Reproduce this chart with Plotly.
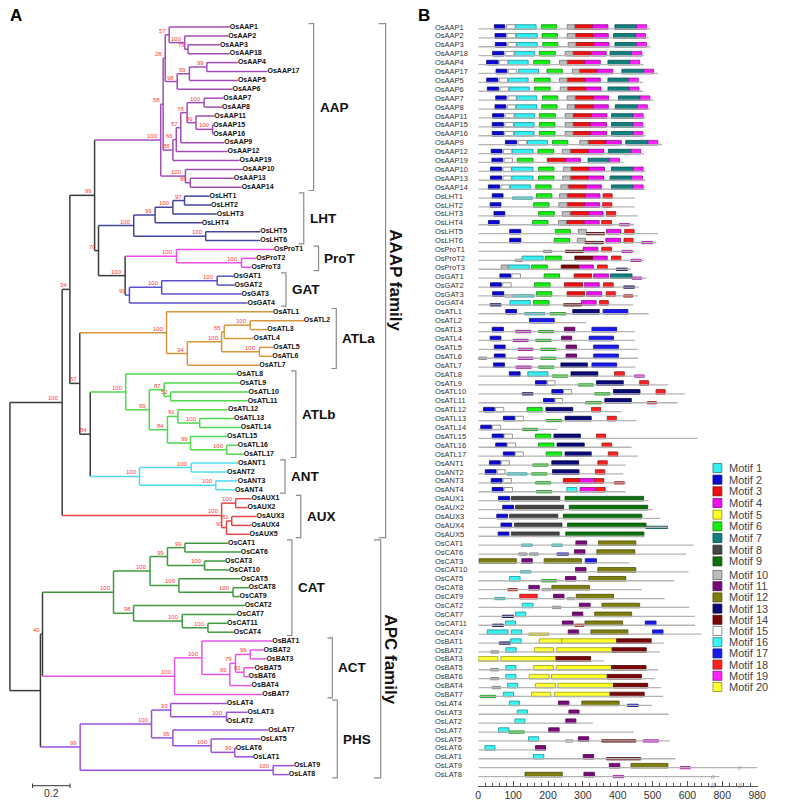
import plotly.graph_objects as go

W, H = 790, 808
FONT = "Arial, Liberation Sans, sans-serif"

# ---------------- DATA ----------------
# Tree (Newick, branch lengths in substitutions/site, bootstrap as node labels), built clade by clade
CLADE_N57A = "(OsAAP1:0.324,(OsAAP2:0.232,(OsAAP3:0.170,OsAAP18:0.223)75:0.018)100:0.083)57:0.021"
CLADE_N98 = "(((OsAAP4:0.166,OsAAP17:0.324)99:0.093,OsAAP5:0.259)99:0.065,OsAAP6:0.295)98:0.064"
CLADE_N78 = ("((OsAAP7:0.102,OsAAP8:0.095)100:0.091,(OsAAP11:0.098,"
             "(OsAAP15:0.003,OsAAP16:0.003)100:0.089)99:0.047)78:0.034")
CLADE_N88 = "(((" + CLADE_N78 + ",OsAAP9:0.232)57:0.024,OsAAP12:0.274)66:0.018,OsAAP19:0.356)88:0.052"
CLADE_N100B = "(OsAAP10:0.305,(OsAAP13:0.232,OsAAP14:0.274)86:0.026)100:0.132"
CLADE_AAP = ("(((" + CLADE_N57A + "," + CLADE_N98 + ")28:0.011," + CLADE_N88 + ")58:0.013,"
             + CLADE_N100B + ")100:0.353")
CLADE_LHT = ("((((OsLHT1:0.133,OsLHT2:0.142)97:0.062,OsLHT3:0.234)100:0.095,OsLHT4:0.249)99:0.114,"
             "(OsLHT5:0.291,OsLHT6:0.291)100:0.384)100:0.188")
CLADE_PROT = "(OsProT1:0.521,(OsProT2:0.079,OsProT3:0.053)100:0.347)100:0.274"
CLADE_GAT = "(((OsGAT1:0.088,OsGAT2:0.093)100:0.296,OsGAT3:0.426)100:0.172,OsGAT4:0.630)99:0.023"
CLADE_ATLA = ("(OsATL1:0.568,((((OsATL2:0.286,OsATL3:0.091)100:0.139,OsATL4:0.156)55:0.014,"
              "(OsATL5:0.074,OsATL6:0.068)100:0.202)100:0.183,OsATL7:0.384)94:0.111)100:0.463")
CLADE_ATLB = ("(OsATL8:0.593,((OsATL9:0.404,(OsATL10:0.416,OsATL11:0.411)52:0.035)87:0.079,"
              "((OsATL12:0.267,(OsATL13:0.183,OsATL14:0.219)100:0.116)91:0.056,"
              "(OsATL15:0.195,(OsATL16:0.059,OsATL17:0.091)100:0.193)99:0.123)84:0.097)99:0.126)100:0.189")
CLADE_ANT = "((OsANT1:0.249,OsANT2:0.191)100:0.276,(OsANT3:0.117,OsANT4:0.102)100:0.407)100:0.263"
CLADE_AUX = ("((OsAUX1:0.084,OsAUX2:0.063)100:0.075,((OsAUX3:0.132,OsAUX4:0.105)81:0.028,"
             "OsAUX5:0.123)93:0.026)100:0.851")
CLADE_CAT = ("((((OsCAT1:0.230,OsCAT6:0.298)99:0.093,(OsCAT3:0.109,OsCAT10:0.130)100:0.198)99:0.093,"
             "(OsCAT5:0.330,(OsCAT8:0.083,OsCAT9:0.035)100:0.289)100:0.154)100:0.195,"
             "(OsCAT2:0.593,(OsCAT7:0.291,(OsCAT11:0.102,OsCAT4:0.138)100:0.137)100:0.260)98:0.107)100:0.379")
CLADE_ACT = ("((OsBAT1:0.375,(((OsBAT2:0.070,OsBAT3:0.086)99:0.079,(OsBAT5:0.056,OsBAT6:0.025)93:0.045)79:0.030,"
             "OsBAT4:0.116)69:0.149)100:0.146,OsBAT7:0.468)100:0.705")
CLADE_PHS = ("(((OsLAT4:0.300,(OsLAT3:0.112,OsLAT2:0.002)100:0.298)93:0.102,"
             "(OsLAT7:0.509,(OsLAT5:0.263,(OsLAT6:0.005,OsLAT1:0.098)99:0.126)100:0.204)95:0.114)100:0.381,"
             "(OsLAT9:0.111,OsLAT8:0.084)100:1.030)99:0.212")
CLADE_N70 = "(" + CLADE_LHT + ",(" + CLADE_PROT + "," + CLADE_GAT + ")100:0.142)70:0.021"
CLADE_N99 = "(" + CLADE_AAP + "," + CLADE_N70 + ")99:0.132"
CLADE_N57 = "(" + CLADE_ATLA + ",(" + CLADE_ATLB + "," + CLADE_ANT + ")84:0.056)57:0.053"
CLADE_AAAP = "((" + CLADE_N99 + "," + CLADE_N57 + ")34:0.041," + CLADE_AUX + ")100:0.279"
CLADE_APC = "((" + CLADE_CAT + "," + CLADE_ACT + ")40:0.011," + CLADE_PHS + "):0.163"
TREE_NEWICK = "(" + CLADE_AAAP + "," + CLADE_APC + ");"

PROTEINS = [
    "OsAAP1", "OsAAP2", "OsAAP3", "OsAAP18", "OsAAP4", "OsAAP17", "OsAAP5", "OsAAP6", "OsAAP7",
    "OsAAP8", "OsAAP11", "OsAAP15", "OsAAP16", "OsAAP9", "OsAAP12", "OsAAP19", "OsAAP10", "OsAAP13",
    "OsAAP14", "OsLHT1", "OsLHT2", "OsLHT3", "OsLHT4", "OsLHT5", "OsLHT6", "OsProT1", "OsProT2",
    "OsProT3", "OsGAT1", "OsGAT2", "OsGAT3", "OsGAT4", "OsATL1", "OsATL2", "OsATL3", "OsATL4",
    "OsATL5", "OsATL6", "OsATL7", "OsATL8", "OsATL9", "OsATL10", "OsATL11", "OsATL12", "OsATL13",
    "OsATL14", "OsATL15", "OsATL16", "OsATL17", "OsANT1", "OsANT2", "OsANT3", "OsANT4", "OsAUX1",
    "OsAUX2", "OsAUX3", "OsAUX4", "OsAUX5", "OsCAT1", "OsCAT6", "OsCAT3", "OsCAT10", "OsCAT5",
    "OsCAT8", "OsCAT9", "OsCAT2", "OsCAT7", "OsCAT11", "OsCAT4", "OsBAT1", "OsBAT2", "OsBAT3",
    "OsBAT5", "OsBAT6", "OsBAT4", "OsBAT7", "OsLAT4", "OsLAT3", "OsLAT2", "OsLAT7", "OsLAT5",
    "OsLAT6", "OsLAT1", "OsLAT9", "OsLAT8",
]

PROTEIN_LENGTHS = [
    494, 489, 494, 475, 475, 516, 473, 473, 503, 494, 480, 480, 480, 527, 475, 417, 480, 480, 480,
    449, 449, 458, 447, 515, 511,
    449, 475, 438,
    483, 461, 458, 444,
    489, 310, 449, 449, 458, 458, 451, 480, 545, 593, 572, 411, 453, 226, 629, 440, 458,
    423, 416, 423, 423,
    489, 500, 522, 543, 475,
    617, 596, 433, 603, 562, 469, 535, 605, 621, 621, 640,
    532, 521, 360, 516, 506, 524, 530,
    499, 546, 329, 447, 550, 193, 565, 980, 772,
]

# motif hits per protein: "motif[w]:start-end" (w = weak / low-score hit)
MOTIF_HITS = [
    "2:46-76 15:81-106 1:107-166 6:181-225 10:255-277 3:277-328 4:328-372 7:392-454 19:454-483",
    "2:48-79 15:82-107 1:109-169 6:183-227 10:255-279 3:279-329 4:331-373 7:388-452 19:452-480",
    "2:49-80 15:85-109 1:110-169 6:185-228 10:258-280 3:280-331 4:331-375 7:392-454 19:454-483",
    "2:41-73 15:77-103 1:103-162 6:175-221 10:249-272 3:272-322 4:324-367 7:378-440 19:440-469",
    "2:24-57 15:60-85 1:85-143 6:159-205 10:233-255 3:255-305 4:305-350 7:372-435 19:435-463",
    "2:51-82 15:86-109 1:115-173 6:197-241 10:270-290 3:290-340 4:340-386 7:412-475 19:475-503",
    "2:24-56 15:60-84 1:86-143 6:161-206 10:233-255 3:255-306 4:306-350 7:372-431 19:431-459",
    "2:26-58 15:62-87 1:89-146 6:161-206 10:235-256 3:256-308 4:308-352 7:372-433 19:433-461",
    "2:50-80 15:85-109 1:110-168 6:184-228 10:255-278 3:278-330 4:330-374 7:402-464 19:464-492",
    "2:48-79 15:83-107 1:109-168 6:182-226 10:255-277 3:277-329 4:329-373 7:393-456 19:456-485",
    "2:41-73 15:77-103 1:104-162 6:175-221 10:249-272 3:272-324 4:324-369 7:382-444 19:444-473",
    "2:40-72 15:76-101 1:103-160 6:175-220 10:249-272 3:272-322 4:322-368 7:382-444 19:444-472",
    "2:40-72 15:76-101 1:103-160 6:175-220 10:249-272 3:272-322 4:322-368 7:382-444 19:444-472",
    "2:78-110 15:114-139 1:140-199 6:213-257 10:291-315 3:315-366 4:366-410 7:423-487 19:487-515",
    "2:37-68 15:72-96 1:97-157 6:171-216 10:241-264 3:264-315 4:315-360 7:373-438 19:438-466",
    "2:39-70 15:74-98 6:112-157 3:198-251 4:251-293 7:315-376 19:376-405",
    "2:35-67 15:71-95 1:96-157 6:173-217 10:244-266 3:266-317 4:317-362 7:382-444 19:444-473",
    "2:35-67 15:71-95 1:96-157 6:173-217 10:242-264 3:264-315 4:315-360 7:378-440 19:440-471",
    "2:29-61 15:65-90 1:91-150 6:165-209 10:237-258 3:258-309 4:309-353 7:382-444 19:444-473",
    "2:40-71 1w:98-156 6:167-211 10:233-255 3:255-307 4:307-349 18:358-384",
    "2:34-65 6:159-203 10:231-255 3:255-305 4:305-348 18:357-383",
    "2:45-76 6:173-218 10:241-264 3:264-317 4:317-358 18:368-394",
    "2:29-60 6:156-200 10:230-253 3:253-304 4:304-347 18:354-382 19w:405-434",
    "2:90-122 6:221-264 10:287-310 14w:310-362 4:368-409 18:420-447",
    "2:90-122 6:218-262 10:284-307 14w:307-359 4:366-408 18:418-444 19w:469-500",
    "10w:187-211 14w:250-301 4:301-343 18:354-382 19w:412-442",
    "15w:106-126 1:126-186 6:192-238 14:277-327 4:327-370 18:382-409 19w:438-467",
    "10:66-86 1:86-146 6:153-198 14:238-288 4:288-330 18:342-370 13w:396-428",
    "2:62-93 15:96-121 6:189-233 3:275-325 4:331-374 7:379-441 19w:441-469",
    "2:35-66 15:70-94 6:161-206 3:247-299 4:304-347 18:359-387 13w:417-448",
    "2:41-73 15w:76-101 1w:101-160 6:167-211 3:255-305 4:311-354 18:367-393 18w:417-443",
    "13w:34-65 1:91-149 6:158-203 14w:245-296 4:296-338 18:348-373",
    "2:79-110 1w:133-191 6w:206-251 13:271-347 17:358-429",
    "17:147-218",
    "2:40-72 4w:107-151 6w:173-217 11:247-277 17:326-397",
    "2:34-65 4w:100-143 6w:165-209 11:239-268 17:318-388",
    "2:46-77 4w:114-157 6w:179-223 11:252-282 17:331-402",
    "10w:0-24 2:46-77 4w:114-157 6w:179-223 11:252-282 17:331-402",
    "2:44-75 4w:108-152 6w:173-217 13:237-313 17:326-397",
    "2:89-120 1:142-200 6w:213-256 13:266-343 18:391-419 19w:448-476",
    "2:164-195 15:198-220 6w:287-330 13:339-416 18:463-489",
    "13w:126-157 2:211-243 15:245-268 6w:334-378 13:388-464 18:510-536",
    "2:187-218 15:220-242 6w:308-353 13:363-439 18w:485-511",
    "2:15-46 15:49-73 6:140-183 13:194-271 18:325-351",
    "2:72-104 15:106-129 6w:195-239 13:249-324 18:370-396",
    "2:7-38 15:40-64 6w:127-171",
    "2:40-72 15:74-98 6:164-208 13:217-293 18:339-365",
    "2:50-81 15:83-107 6:173-217 13:226-304 18:355-382",
    "2:72-104 15:106-129 6:195-239 13:249-324 18:373-400",
    "2:32-63 15:66-89 6w:156-200 13:211-288 18:343-370",
    "2:20-51 15:54-77 1w:83-140 6w:153-197 13:213-289 18:336-363",
    "2:37-68 15:71-95 6w:164-208 3:244-291 4:291-334 18:334-360 18w:390-419",
    "2:40-71 15:74-98 6w:167-211 16:254-283 4:292-336 18:338-364",
    "2:58-90 8:95-234 9:249-474",
    "2:70-101 8:107-245 9:261-486",
    "2:53-84 8:90-228 9:244-469",
    "2:65-96 8:104-240 9:256-481 7w:481-543",
    "2:57-88 8:95-232 9:251-475",
    "16w:124-155 16w:211-241 11:280-311 12:345-452",
    "10w:116-140 10w:147-172 17w:226-259 11:276-306 12:340-449",
    "12:2-109 11:125-155 12:189-296 17:307-339",
    "16w:121-151 11:279-309 12:343-452",
    "16:90-120 6w:181-225 11:250-280 12:317-423",
    "18w:85-112 11:145-175 15w:184-208 12:211-319",
    "16w:47-77 18:119-169 11:216-246 15w:255-277 12:281-388",
    "16:126-157 10w:213-237 11:290-321 12:355-463",
    "13w:69-101 16:107-136 11:270-300 12:334-440",
    "13w:41-72 16:78-107 11:241-272 18w:277-303 12:306-414 17:479-510",
    "1:26-85 16:95-124 20w:145-202 11:258-288 12:323-429 17:500-530",
    "13w:60-92 16:92-123 20:175-239 5:239-397 14:397-496",
    "10w:36-58 16:79-109 20:161-216 5:225-384 14:384-482",
    "20:0-56 5:65-223 14:223-322",
    "10w:35-58 16:79-108 20:159-215 5:224-382 14:382-481",
    "10w:35-58 16:79-108 20:146-203 5:210-370 14:370-468",
    "10w:40-64 16:84-113 20:164-221 5:229-388 14:388-486",
    "6w:6-50 16:72-101 20:153-208 5:219-378 14:378-476",
    "16:89-118 11:230-260 12:297-404 17w:428-459",
    "16:112-141 11:260-289",
    "16:105-134 11:251-280",
    "16:58-88 6w:88-132 11:202-232",
    "16:144-173 15w:250-271 11:287-317 14w:354-452 19w:473-517",
    "16:19-48 11:164-193",
    "16:158-188 11:301-331 14w:368-466",
    "11:376-406 12:438-544 19w:579-608",
    "12:134-241 11:303-333 19w:387-417",
]

SUBFAMILY_LABELS = ["AAP", "LHT", "ProT", "GAT", "ATLa", "ATLb", "ANT", "AUX", "CAT", "ACT", "PHS"]
SUBFAMILY_SIZES = [19, 6, 3, 4, 7, 10, 4, 5, 11, 7, 9]
SUBFAMILY_COLORS = ["#a24db5", "#45459e", "#e84de8", "#5a50cf", "#d8963c", "#4cd94c",
                    "#4fdcf2", "#e04848", "#3f9a3f", "#e657e6", "#9c4fdc"]
FAMILY_LABELS = ["AAAP family", "APC family"]
FAMILY_SIZES = [58, 27]

MOTIF_NAMES = ["Motif %d" % i for i in range(1, 21)]
MOTIF_COLORS = ["#33eef2", "#0a0ad0", "#ee1111", "#ee11ee", "#ffff22", "#14ee14", "#128080",
                "#454545", "#0c720c", "#bdbdbd", "#7a0a7a", "#7f7f10", "#0a0a78", "#7a0808",
                "#ffffff", "#38f6f6", "#1a1aee", "#ff2222", "#ff22ff", "#ffff33"]
AXIS_TICK_AA = [0, 100, 200, 300, 400, 500, 600, 800, 980]
AXIS_BREAKS_AA = [705, 892]
SCALE_BAR_LENGTH = 0.2

# ---------------- LAYOUT CONSTANTS (pixels) ----------------
ROW0, ROW_STEP = 27.0, 8.9
TREE_X0, TREE_PX = 7.0, 190.0
MOTIF_X0, MOTIF_PX = 482.0, 0.3535
AXIS_Y_PX = 785.7
BRACKET_X = [315, 305, 320, 287, 338, 297, 286, 302, 293, 334, 339]
FAMILY_BRACKET_X = [388, 383]
LINE_COLOR = "#3c3c3c"


def px_x(px):
    return px / W


def px_y(py):
    return 1 - py / H


def row_px(r):
    return ROW0 + r * ROW_STEP


def aa_disp(v):
    if v <= 660:
        return v
    if v <= 800:
        return 660 + (v - 660) * 40.0 / 140.0
    return 700 + (v - 800) / 1.8


def darker(hx, f=0.6):
    if hx.lower() == "#ffffff":
        return "#7a7a7a"
    r, g, b = int(hx[1:3], 16), int(hx[3:5], 16), int(hx[5:7], 16)
    return "#%02x%02x%02x" % (int(r * f), int(g * f), int(b * f))


# ---------------- TREE PARSE ----------------
def parse_newick(s):
    s = "".join(s.split())
    pos = [0]

    def node(level):
        if level > 60:
            raise ValueError("newick too deep")
        n = {"children": [], "name": "", "support": "", "bl": 0.0}
        if s[pos[0]] == "(":
            pos[0] += 1
            while True:
                n["children"].append(node(level + 1))
                ch = s[pos[0]]
                if ch == ",":
                    pos[0] += 1
                    continue
                if ch == ")":
                    pos[0] += 1
                    break
                raise ValueError("bad newick at %d: %r" % (pos[0], s[pos[0]:pos[0] + 20]))
        st = pos[0]
        while pos[0] < len(s) and s[pos[0]] not in ":,);":
            pos[0] += 1
        lab = s[st:pos[0]]
        if n["children"]:
            n["support"] = lab
        else:
            if not lab:
                raise ValueError("empty leaf at %d" % pos[0])
            n["name"] = lab
        if pos[0] < len(s) and s[pos[0]] == ":":
            pos[0] += 1
            st = pos[0]
            while s[pos[0]] not in ",);":
                pos[0] += 1
            n["bl"] = float(s[st:pos[0]])
        return n

    return node(0)


root = parse_newick(TREE_NEWICK)

leaf_family = {}
idx = 0
for fi, sz in enumerate(SUBFAMILY_SIZES):
    for k in range(sz):
        leaf_family[PROTEINS[idx]] = fi
        idx += 1

leaves = []


def layout(n, depth):
    n["depth"] = depth
    if not n["children"]:
        n["row"] = len(leaves)
        leaves.append(n)
        n["fams"] = {leaf_family[n["name"]]}
        return
    fams = set()
    for c in n["children"]:
        layout(c, depth + c["bl"])
        fams |= c["fams"]
    n["fams"] = fams
    n["row"] = (n["children"][0]["row"] + n["children"][-1]["row"]) / 2.0


layout(root, 0.0)
if [l["name"] for l in leaves] != PROTEINS:
    raise ValueError("leaf order mismatch")


def node_color(n):
    if len(n["fams"]) == 1:
        return SUBFAMILY_COLORS[list(n["fams"])[0]]
    return LINE_COLOR


segs = {}
sup_annots = []


def draw(n, parent):
    col = node_color(n) if parent is not None else LINE_COLOR
    xs, ys = segs.setdefault(col, ([], []))
    if parent is not None:
        xs += [parent["depth"], n["depth"], None]
        ys += [n["row"], n["row"], None]
    if n["children"]:
        xs += [n["depth"], n["depth"], None]
        ys += [n["children"][0]["row"], n["children"][-1]["row"], None]
        if n["support"]:
            sup_annots.append((n["depth"], n["row"], n["support"]))
        for c in n["children"]:
            draw(c, n)


draw(root, None)

fig = go.Figure()

for col, (xs, ys) in segs.items():
    fig.add_trace(go.Scatter(x=xs, y=ys, mode="lines", line=dict(color=col, width=1.5),
                             hoverinfo="skip", showlegend=False, xaxis="x", yaxis="y"))

fig.add_trace(go.Scatter(
    x=[l["depth"] for l in leaves], y=[l["row"] for l in leaves], mode="text",
    text=[l["name"] for l in leaves], textposition="middle right",
    textfont=dict(size=7, color="#111111", family=FONT, weight="bold"),
    hoverinfo="skip", showlegend=False, xaxis="x", yaxis="y"))

annotations = []
for (x, r, s) in sup_annots:
    annotations.append(dict(x=x, y=r, xref="x", yref="y", text=s, showarrow=False,
                            xanchor="right", yanchor="middle", xshift=-1, yshift=4,
                            font=dict(size=6, color="#ff3b3b", family=FONT)))

# ---------------- MOTIF PANEL ----------------
line_x, line_y = [], []
bars = {}
for i, (name, ln, hits) in enumerate(zip(PROTEINS, PROTEIN_LENGTHS, MOTIF_HITS)):
    line_x += [0, aa_disp(ln), None]
    line_y += [i + 0.22, i + 0.22, None]
    for h in hits.split():
        m, rng = h.split(":")
        weak = m.endswith("w")
        m = int(m.rstrip("w"))
        a, b = [float(v) for v in rng.split("-")]
        d = bars.setdefault(m, {"base": [], "x": [], "y": [], "w": []})
        d["base"].append(aa_disp(a))
        d["x"].append(aa_disp(b) - aa_disp(a))
        d["y"].append(i + 0.22 if weak else i)
        d["w"].append(0.26 if weak else 0.52)

fig.add_trace(go.Scatter(x=line_x, y=line_y, mode="lines", line=dict(color="#b4b4b4", width=1.3),
                         hoverinfo="skip", showlegend=False, xaxis="x2", yaxis="y"))
for m in sorted(bars):
    d = bars[m]
    c = MOTIF_COLORS[m - 1]
    fig.add_trace(go.Bar(base=d["base"], x=d["x"], y=d["y"], width=d["w"], orientation="h",
                         marker=dict(color=c, line=dict(color=darker(c), width=0.8)),
                         hoverinfo="skip", showlegend=False, xaxis="x2", yaxis="y"))

for i, name in enumerate(PROTEINS):
    annotations.append(dict(x=px_x(436), y=i, xref="paper", yref="y", text=name, showarrow=False,
                            xanchor="left", yanchor="middle",
                            font=dict(size=7.5, color="#333333", family=FONT)))

shapes = []
start = 0
for lab, sz, bx in zip(SUBFAMILY_LABELS, SUBFAMILY_SIZES, BRACKET_X):
    top = row_px(start) - 3.3
    bot = row_px(start + sz - 1) + 3.3
    shapes.append(dict(type="path", xref="paper", yref="paper",
                       path="M %f,%f L %f,%f L %f,%f L %f,%f" % (
                           px_x(bx - 5), px_y(top), px_x(bx), px_y(top),
                           px_x(bx), px_y(bot), px_x(bx - 5), px_y(bot)),
                       line=dict(color="#8c8c8c", width=1.2)))
    annotations.append(dict(x=px_x(bx + 4), y=px_y((top + bot) / 2), xref="paper", yref="paper",
                            text=lab, showarrow=False, xanchor="left", yanchor="middle",
                            font=dict(size=13.5, color="#111111", family=FONT, weight="bold")))
    start += sz

start = 0
for lab, sz, bx in zip(FAMILY_LABELS, FAMILY_SIZES, FAMILY_BRACKET_X):
    top = row_px(start) - 3.3
    bot = row_px(start + sz - 1) + 3.3
    shapes.append(dict(type="path", xref="paper", yref="paper",
                       path="M %f,%f L %f,%f L %f,%f L %f,%f" % (
                           px_x(bx - 7), px_y(top), px_x(bx), px_y(top),
                           px_x(bx), px_y(bot), px_x(bx - 7), px_y(bot)),
                       line=dict(color="#8c8c8c", width=1.2)))
    annotations.append(dict(x=px_x(bx + 10), y=px_y((top + bot) / 2), xref="paper", yref="paper",
                            text=lab, showarrow=False, xanchor="center", yanchor="middle",
                            textangle=90,
                            font=dict(size=17, color="#111111", family=FONT, weight="bold")))
    start += sz

sb0 = 30.0
sb1 = sb0 + SCALE_BAR_LENGTH * TREE_PX
shapes.append(dict(type="line", xref="paper", yref="paper", x0=px_x(sb0), x1=px_x(sb1),
                   y0=px_y(785.7), y1=px_y(785.7), line=dict(color="#333333", width=1)))
for xx in (sb0, sb1):
    shapes.append(dict(type="line", xref="paper", yref="paper", x0=px_x(xx), x1=px_x(xx),
                       y0=px_y(783.5), y1=px_y(788), line=dict(color="#333333", width=1)))
annotations.append(dict(x=px_x((sb0 + sb1) / 2), y=px_y(793), xref="paper", yref="paper",
                        text=str(SCALE_BAR_LENGTH), showarrow=False, xanchor="center",
                        yanchor="middle", font=dict(size=10.5, color="#333333", family=FONT)))

annotations.append(dict(x=px_x(13), y=px_y(15), xref="paper", yref="paper", text="A",
                        showarrow=False, xanchor="center", yanchor="middle",
                        font=dict(size=17, color="#000", family=FONT, weight="bold")))
annotations.append(dict(x=px_x(427), y=px_y(15), xref="paper", yref="paper", text="B",
                        showarrow=False, xanchor="center", yanchor="middle",
                        font=dict(size=17, color="#000", family=FONT, weight="bold")))

for i, (nm, c) in enumerate(zip(MOTIF_NAMES, MOTIF_COLORS)):
    yc = 468 + i * 11.67 if i < 9 else 575 + (i - 9) * 11.2
    shapes.append(dict(type="rect", xref="paper", yref="paper", x0=px_x(720), x1=px_x(729),
                       y0=px_y(yc - 4.5), y1=px_y(yc + 4.5), fillcolor=c,
                       line=dict(color=darker(c, 0.55), width=0.8)))
    annotations.append(dict(x=px_x(734), y=px_y(yc), xref="paper", yref="paper", text=nm,
                            showarrow=False, xanchor="left", yanchor="middle",
                            font=dict(size=11, color="#444444", family=FONT)))

for v in AXIS_BREAKS_AA:
    annotations.append(dict(x=aa_disp(v), y=px_y(AXIS_Y_PX), xref="x2", yref="paper", text="//",
                            showarrow=False, xanchor="center", yanchor="middle",
                            font=dict(size=7, color="#666666", family=FONT)))
annotations.append(dict(x=aa_disp(AXIS_BREAKS_AA[0]), y=len(PROTEINS) - 1 + 0.22, xref="x2",
                        yref="y", text="//", showarrow=False, xanchor="center", yanchor="middle",
                        font=dict(size=6, color="#888888", family=FONT)))
annotations.append(dict(x=aa_disp(AXIS_BREAKS_AA[1]), y=len(PROTEINS) - 2 + 0.22, xref="x2",
                        yref="y", text="//", showarrow=False, xanchor="center", yanchor="middle",
                        font=dict(size=6, color="#888888", family=FONT)))

disp_max = aa_disp(max(PROTEIN_LENGTHS)) + 2
fig.update_layout(
    width=W, height=H, margin=dict(l=0, r=0, t=0, b=0),
    paper_bgcolor="white", plot_bgcolor="rgba(0,0,0,0)",
    showlegend=False, barmode="overlay",
    xaxis=dict(domain=[0, 1], range=[-TREE_X0 / TREE_PX, (W - TREE_X0) / TREE_PX],
               visible=False, fixedrange=True),
    yaxis=dict(domain=[0, 1], range=[(H - ROW0) / ROW_STEP, -ROW0 / ROW_STEP],
               visible=False, fixedrange=True),
    xaxis2=dict(domain=[px_x(MOTIF_X0), px_x(MOTIF_X0 + disp_max * MOTIF_PX)],
                range=[0, disp_max], anchor="free", position=px_y(AXIS_Y_PX),
                showline=True, linecolor="#555555", linewidth=1, showgrid=False, zeroline=False,
                tickmode="array", tickvals=[aa_disp(v) for v in AXIS_TICK_AA],
                ticktext=[str(v) for v in AXIS_TICK_AA],
                ticks="inside", ticklen=5, tickcolor="#555555", tickwidth=1,
                minor=dict(ticks="inside", ticklen=3, dtick=20, tick0=0, tickcolor="#555555"),
                tickfont=dict(size=10.5, color="#333333", family=FONT), fixedrange=True),
    shapes=shapes, annotations=annotations,
)

fig.write_html("out.html", config={"displayModeBar": False, "staticPlot": True},
               post_script="document.body.style.margin='0px';document.body.style.overflow='hidden';")
